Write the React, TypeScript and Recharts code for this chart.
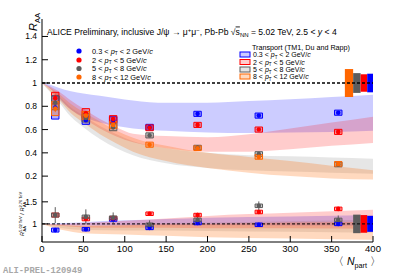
import React from "react";
import {
  ComposedChart,
  Area,
  Scatter,
  XAxis,
  YAxis,
  ReferenceLine,
  ReferenceArea,
  ErrorBar,
} from "recharts";

// ---------- data ----------
const NPART = [16, 53, 86, 130, 188, 262, 358];

const RAA_BLUE = [0.79, 0.68, 0.68, 0.62, 0.735, 0.72, 0.745];
const RAA_RED = [0.87, 0.74, 0.69, 0.615, 0.64, 0.6, 0.58];
const RAA_GRAY = [0.83, 0.7, 0.62, 0.55, 0.445, 0.39, 0.3];
const RAA_ORANGE = [0.78, 0.72, 0.64, 0.47, 0.44, 0.365, 0.305];

const STAT_BLUE = [0.03, 0.015, 0.015, 0.012, 0.012, 0.012, 0.012];
const STAT_RED = [0.03, 0.015, 0.015, 0.012, 0.012, 0.012, 0.012];
const STAT_GRAY = [0.03, 0.02, 0.02, 0.015, 0.015, 0.012, 0.012];
const STAT_ORANGE = [0.03, 0.02, 0.02, 0.015, 0.015, 0.012, 0.012];

const SYS_BLUE = [0.1, 0.035, 0.03, 0.025, 0.022, 0.022, 0.022];
const SYS_RED = [0.05, 0.04, 0.03, 0.025, 0.022, 0.022, 0.022];
const SYS_GRAY = [0.06, 0.035, 0.03, 0.022, 0.02, 0.02, 0.02];
const SYS_ORANGE = [0.06, 0.035, 0.03, 0.022, 0.02, 0.02, 0.02];

const RATIO_BLUE = [0.86, 0.88, 1.1, 0.91, 1.02, 0.98, 1.0];
const RATIO_RED = [1.2, 1.11, 1.13, 1.23, 1.2, 1.27, 1.34];
const RATIO_GRAY = [1.2, 1.16, 1.14, 0.98, 1.09, 1.41, 1.09];
const RATIO_STAT_BLUE = [0.03, 0.03, 0.03, 0.03, 0.04, 0.03, 0.03];
const RATIO_STAT_RED = [0.04, 0.04, 0.04, 0.04, 0.05, 0.04, 0.04];
const RATIO_STAT_GRAY = [0.18, 0.17, 0.12, 0.1, 0.1, 0.1, 0.1];
const RATIO_SYS = [0.045, 0.04, 0.04, 0.04, 0.04, 0.04, 0.04];

// TM1 transport model bands (top panel)
const BAND_N = [0, 10, 20, 35, 50, 70, 90, 110, 150, 200, 250, 300, 350, 400];
const TM1_BLUE_LO = [1.0, 0.95, 0.87, 0.77, 0.71, 0.66, 0.63, 0.61, 0.59, 0.575, 0.57, 0.575, 0.58, 0.59];
const TM1_BLUE_HI = [1.0, 0.985, 0.96, 0.93, 0.91, 0.89, 0.87, 0.85, 0.83, 0.83, 0.845, 0.86, 0.88, 0.9];
const TM1_RED_LO = [1.0, 0.95, 0.88, 0.77, 0.7, 0.61, 0.54, 0.49, 0.44, 0.41, 0.41, 0.43, 0.46, 0.485];
const TM1_RED_HI = [1.0, 0.97, 0.93, 0.85, 0.78, 0.69, 0.62, 0.565, 0.545, 0.535, 0.56, 0.61, 0.66, 0.71];
const TM1_GRAY_LO = [1.0, 0.92, 0.84, 0.71, 0.62, 0.52, 0.44, 0.38, 0.31, 0.27, 0.25, 0.24, 0.23, 0.22];
const TM1_GRAY_HI = [1.0, 0.95, 0.89, 0.79, 0.72, 0.63, 0.56, 0.5, 0.44, 0.4, 0.38, 0.37, 0.36, 0.35];
const TM1_ORANGE_LO = [1.0, 0.93, 0.86, 0.74, 0.66, 0.56, 0.48, 0.41, 0.33, 0.27, 0.23, 0.2, 0.18, 0.17];
const TM1_ORANGE_HI = [1.0, 0.96, 0.91, 0.82, 0.75, 0.67, 0.59, 0.53, 0.46, 0.4, 0.365, 0.33, 0.29, 0.25];

// TM1 ratio bands (bottom panel)
const RB_N = [0, 25, 50, 100, 150, 200, 300, 400];
const R_BLUE_LO = [1, 0.98, 0.97, 0.97, 0.97, 0.97, 0.965, 0.96];
const R_BLUE_HI = [1, 1.02, 1.04, 1.08, 1.11, 1.14, 1.17, 1.2];
const R_RED_LO = [1, 0.95, 0.92, 0.91, 0.91, 0.9, 0.9, 0.89];
const R_RED_HI = [1, 1.0, 1.02, 1.07, 1.12, 1.18, 1.25, 1.32];
const R_GRAY_LO = [1, 0.9, 0.86, 0.85, 0.85, 0.84, 0.82, 0.8];
const R_GRAY_HI = [1, 0.98, 0.97, 1.0, 1.02, 1.03, 1.06, 1.1];
const R_ORANGE_LO = [1, 0.86, 0.79, 0.76, 0.73, 0.7, 0.67, 0.64];
const R_ORANGE_HI = [1, 0.97, 0.95, 0.97, 0.99, 1.0, 1.03, 1.05];

// global uncertainty boxes (orange, gray, red, blue), slot edges on Npart axis
const GLOBAL_SLOTS = [366, 376, 385, 393, 400];
const GLOBAL_TOP = [0.12, 0.085, 0.075, 0.08];
const GLOBAL_RATIO = [0, 0.21, 0.2, 0.18];

const X_MAJOR = [0, 50, 100, 150, 200, 250, 300, 350, 400];
const X_MINOR = Array.from({ length: 41 }, (_, i) => i * 10);
const Y_TOP_MAJOR = [0.2, 0.4, 0.6, 0.8, 1, 1.2, 1.4];
const Y_TOP_MINOR = Array.from({ length: 29 }, (_, i) => +(0.1 + i * 0.05).toFixed(2));
const Y_RAT_MAJOR = [1, 1.5];
const Y_RAT_MINOR = [0.6, 0.7, 0.8, 0.9, 1, 1.1, 1.2, 1.3, 1.4, 1.5, 1.6, 1.7];

const PT_LABELS = ["0.3", "2", "5", "8"];
const PT_HIGH = ["2", "5", "8", "12"];

const COL = { blue: "#0000ff", red: "#ff0000", gray: "#5c5c5c", orange: "#ff6600" };
const BAND_FILL = { blue: "#0000ff", red: "#ff0000", gray: "#8c8c8c", orange: "#ff6600" };
const BAND_OP = { blue: 0.2, red: 0.2, gray: 0.22, orange: 0.25 };
const SERIES = ["blue", "red", "gray", "orange"] as const;
const GLOBAL_ORDER = ["orange", "gray", "red", "blue"] as const;

const FONT = "'Liberation Sans', Arial, Helvetica, sans-serif";

const topPoints = {
  blue: NPART.map((n, i) => ({ n, v: RAA_BLUE[i], e: STAT_BLUE[i], s: SYS_BLUE[i] })),
  red: NPART.map((n, i) => ({ n, v: RAA_RED[i], e: STAT_RED[i], s: SYS_RED[i] })),
  gray: NPART.map((n, i) => ({ n, v: RAA_GRAY[i], e: STAT_GRAY[i], s: SYS_GRAY[i] })),
  orange: NPART.map((n, i) => ({ n, v: RAA_ORANGE[i], e: STAT_ORANGE[i], s: SYS_ORANGE[i] })),
};
const ratioPoints = {
  blue: NPART.map((n, i) => ({ n, v: RATIO_BLUE[i], e: RATIO_STAT_BLUE[i], s: RATIO_SYS[i] })),
  red: NPART.map((n, i) => ({ n, v: RATIO_RED[i], e: RATIO_STAT_RED[i], s: RATIO_SYS[i] })),
  gray: NPART.map((n, i) => ({ n, v: RATIO_GRAY[i], e: RATIO_STAT_GRAY[i], s: RATIO_SYS[i] })),
};

const topBands = BAND_N.map((n, i) => ({
  n,
  blue: [TM1_BLUE_LO[i], TM1_BLUE_HI[i]],
  red: [TM1_RED_LO[i], TM1_RED_HI[i]],
  gray: [TM1_GRAY_LO[i], TM1_GRAY_HI[i]],
  orange: [TM1_ORANGE_LO[i], TM1_ORANGE_HI[i]],
}));
const ratioBands = RB_N.map((n, i) => ({
  n,
  blue: [R_BLUE_LO[i], R_BLUE_HI[i]],
  red: [R_RED_LO[i], R_RED_HI[i]],
  gray: [R_GRAY_LO[i], R_GRAY_HI[i]],
  orange: [R_ORANGE_LO[i], R_ORANGE_HI[i]],
}));

const BOX_HALF = 4.5;

// tick renderer that draws no label (keeps tick lines visible)
const noLabel = () => <g />;

function frameAxes(
  yDomain: number[],
  yMajor: number[],
  yMinor: number[],
  showX: boolean
) {
  const line = { stroke: "#000", strokeWidth: 1 };
  return [
    <XAxis key="xm" xAxisId="xm" type="number" dataKey="n" domain={[0, 400]} ticks={X_MINOR} interval={0}
      tickSize={-3} tick={noLabel} axisLine={false} tickLine={line} height={0} allowDataOverflow />,
    <XAxis key="x" xAxisId="x" type="number" dataKey="n" domain={[0, 400]} ticks={X_MAJOR} interval={0}
      tickSize={-6} tickMargin={9}
      tick={showX ? { fontSize: 9.5, fill: "#000", fontFamily: FONT } : noLabel}
      axisLine={line} tickLine={line} height={showX ? 20 : 0} allowDataOverflow />,
    <XAxis key="xtm" xAxisId="xtm" orientation="top" type="number" dataKey="n" domain={[0, 400]} ticks={X_MINOR}
      interval={0} tickSize={-3} tick={noLabel} axisLine={false} tickLine={line} height={0} allowDataOverflow />,
    <XAxis key="xt" xAxisId="xt" orientation="top" type="number" dataKey="n" domain={[0, 400]} ticks={X_MAJOR}
      interval={0} tickSize={-6} tick={noLabel} axisLine={line} tickLine={line} height={0} allowDataOverflow />,
    <YAxis key="ym" yAxisId="ym" type="number" domain={yDomain} ticks={yMinor} interval={0} tickSize={-3}
      tick={noLabel} axisLine={false} tickLine={line} width={0} allowDataOverflow />,
    <YAxis key="y" yAxisId="y" type="number" domain={yDomain} ticks={yMajor} interval={0} tickSize={-6}
      tickMargin={11} tick={{ fontSize: 8.5, fill: "#000", fontFamily: FONT }}
      axisLine={line} tickLine={line} width={34} allowDataOverflow />,
    <YAxis key="yrm" yAxisId="yrm" orientation="right" type="number" domain={yDomain} ticks={yMinor}
      interval={0} tickSize={-3} tick={noLabel} axisLine={false} tickLine={line} width={0} allowDataOverflow />,
    <YAxis key="yr" yAxisId="yr" orientation="right" type="number" domain={yDomain} ticks={yMajor}
      interval={0} tickSize={-6} tick={noLabel} axisLine={line} tickLine={line} width={0} allowDataOverflow />,
  ];
}

function bands(which: readonly string[]) {
  return which.map((k) => (
    <Area key={"band-" + k} xAxisId="x" yAxisId="y" type="monotone" dataKey={k}
      stroke="none" fill={(BAND_FILL as any)[k]} fillOpacity={(BAND_OP as any)[k]}
      isAnimationActive={false} dot={false} activeDot={false} />
  ));
}

function sysBoxes(pts: Record<string, { n: number; v: number; s: number }[]>) {
  const out: any[] = [];
  Object.keys(pts).forEach((k) => {
    pts[k].forEach((p, i) => {
      out.push(
        <ReferenceArea key={"sys-" + k + i} xAxisId="x" yAxisId="y"
          x1={p.n - BOX_HALF} x2={p.n + BOX_HALF} y1={p.v - p.s} y2={p.v + p.s}
          fill={(COL as any)[k]} fillOpacity={0.3} stroke={(COL as any)[k]} strokeWidth={1} />
      );
    });
  });
  return out;
}

function points(pts: Record<string, { n: number; v: number; e: number }[]>) {
  return Object.keys(pts).map((k) => (
    <Scatter key={"pts-" + k} xAxisId="x" yAxisId="y" data={pts[k]} dataKey="v"
      isAnimationActive={false}
      shape={(p: any) => <circle cx={p.cx} cy={p.cy} r={2.3} fill={(COL as any)[k]} />}>
      <ErrorBar dataKey="e" direction="y" width={0} stroke={(COL as any)[k]} strokeWidth={1} />
    </Scatter>
  ));
}

function globalBoxes(vals: number[]) {
  return GLOBAL_ORDER.map((k, i) =>
    vals[i] > 0 ? (
      <ReferenceArea key={"glob-" + k} xAxisId="x" yAxisId="y"
        x1={GLOBAL_SLOTS[i]} x2={GLOBAL_SLOTS[i + 1]} y1={1 - vals[i]} y2={1 + vals[i]}
        fill={(COL as any)[k]} fillOpacity={1} stroke="none" />
    ) : null
  );
}

function TopPanel() {
  return (
    <ComposedChart width={415} height={200} data={topBands}
      margin={{ top: 19, right: 42, bottom: 7, left: 8 }}>
      {frameAxes([0.055, 1.55], Y_TOP_MAJOR, Y_TOP_MINOR, false)}
      {bands(["blue", "gray", "red", "orange"])}
      {sysBoxes(topPoints)}
      <ReferenceLine xAxisId="x" yAxisId="y" y={1} stroke="#000" strokeWidth={1.3} strokeDasharray="3 2" />
      {globalBoxes(GLOBAL_TOP)}
      {points(topPoints)}
    </ComposedChart>
  );
}

function RatioPanel() {
  return (
    <ComposedChart width={415} height={96} data={ratioBands}
      margin={{ top: 13, right: 42, bottom: 14, left: 8 }}>
      {frameAxes([0.59, 1.7], Y_RAT_MAJOR, Y_RAT_MINOR, true)}
      {bands(["blue", "gray", "red", "orange"])}
      {sysBoxes(ratioPoints)}
      <ReferenceLine xAxisId="x" yAxisId="y" y={1} stroke="#000" strokeWidth={1} strokeDasharray="3 2" />
      {globalBoxes(GLOBAL_RATIO)}
      {points(ratioPoints)}
    </ComposedChart>
  );
}

function PtText({ x, y, i, size }: { x: number; y: number; i: number; size: number }) {
  return (
    <text x={x} y={y} fontSize={size} fontFamily={FONT} fill="#000">
      {PT_LABELS[i] + " < "}
      <tspan fontStyle="italic">p</tspan>
      <tspan fontSize={size * 0.65} dy={1.5}>T</tspan>
      <tspan dy={-1.5}>{" < " + PT_HIGH[i] + " GeV/"}</tspan>
      <tspan fontStyle="italic">c</tspan>
    </text>
  );
}

function Overlay() {
  const leftRows = [51, 60, 68.5, 77];
  const rightRows = [54.5, 62, 69.5, 76.5];
  return (
    <svg width={415} height={276} style={{ position: "absolute", left: 0, top: 0, pointerEvents: "none" }}>
      {/* y title */}
      <text transform="translate(37,31) rotate(-90)" fontSize={11} fontFamily={FONT} fill="#000">
        <tspan fontStyle="italic">R</tspan>
        <tspan fontSize={7.5} dy={2.5}>AA</tspan>
      </text>
      {/* title */}
      <text x={47} y={34.5} fontSize={8.6} fontFamily={FONT} fill="#000">
        {"ALICE Preliminary, inclusive J/ψ → μ"}
        <tspan fontSize={6} dy={-3}>+</tspan>
        <tspan dy={3}>μ</tspan>
        <tspan fontSize={6} dy={-3}>−</tspan>
        <tspan dy={3}>{", Pb-Pb √"}</tspan>
        <tspan textDecoration="overline">s</tspan>
        <tspan fontSize={6} dy={2}>NN</tspan>
        <tspan dy={-2}>{" = 5.02 TeV, 2.5 < "}</tspan>
        <tspan fontStyle="italic">y</tspan>
        <tspan>{" < 4"}</tspan>
      </text>
      {/* left legend: data */}
      {SERIES.map((k, i) => (
        <g key={"ll" + k}>
          <circle cx={79} cy={leftRows[i]} r={2.6} fill={(COL as any)[k]} />
          <PtText x={92} y={leftRows[i] + 2.6} i={i} size={7.4} />
        </g>
      ))}
      {/* right legend: model */}
      <text x={252} y={50} fontSize={7.2} fontFamily={FONT} fill="#000">Transport (TM1, Du and Rapp)</text>
      {SERIES.map((k, i) => (
        <g key={"rl" + k}>
          <rect x={240} y={rightRows[i] - 2.5} width={10} height={5}
            fill={(BAND_FILL as any)[k]} fillOpacity={(BAND_OP as any)[k]}
            stroke={(COL as any)[k]} strokeWidth={1} />
          <PtText x={253} y={rightRows[i] + 2.5} i={i} size={7} />
        </g>
      ))}
      {/* ratio y title */}
      <text transform="translate(24,236) rotate(-90)" fontSize={5.6} fontFamily={FONT} fill="#000">
        <tspan fontStyle="italic">R</tspan>
        <tspan fontSize={4} dy={-2.5}>5.02 TeV</tspan>
        <tspan fontSize={4} dx={-15} dy={4.5}>AA</tspan>
        <tspan dx={10} dy={-2}>{" / "}</tspan>
        <tspan fontStyle="italic">R</tspan>
        <tspan fontSize={4} dy={-2.5}>2.76 TeV</tspan>
        <tspan fontSize={4} dx={-15} dy={4.5}>AA</tspan>
      </text>
      {/* x title */}
      <text x={333} y={265} fontSize={10.5} fontFamily={FONT} fill="#000">
        {"〈 "}
        <tspan fontStyle="italic">N</tspan>
        <tspan fontSize={7.2} dy={3}>part</tspan>
        <tspan dy={-3}>{" 〉"}</tspan>
      </text>
      {/* preliminary tag */}
      <text x={3} y={273} fontSize={8.8} fontFamily="'Liberation Mono', 'DejaVu Sans Mono', monospace"
        fill="#a8a8a8" fontWeight="bold">ALI-PREL-120949</text>
    </svg>
  );
}

export default function App() {
  return (
    <div style={{ position: "absolute", left: 0, top: 0, width: 415, height: 276, background: "#fff", overflow: "hidden" }}>
      <div style={{ position: "absolute", left: 0, top: 0 }}>
        <TopPanel />
      </div>
      <div style={{ position: "absolute", left: 0, top: 180 }}>
        <RatioPanel />
      </div>
      <Overlay />
    </div>
  );
}
